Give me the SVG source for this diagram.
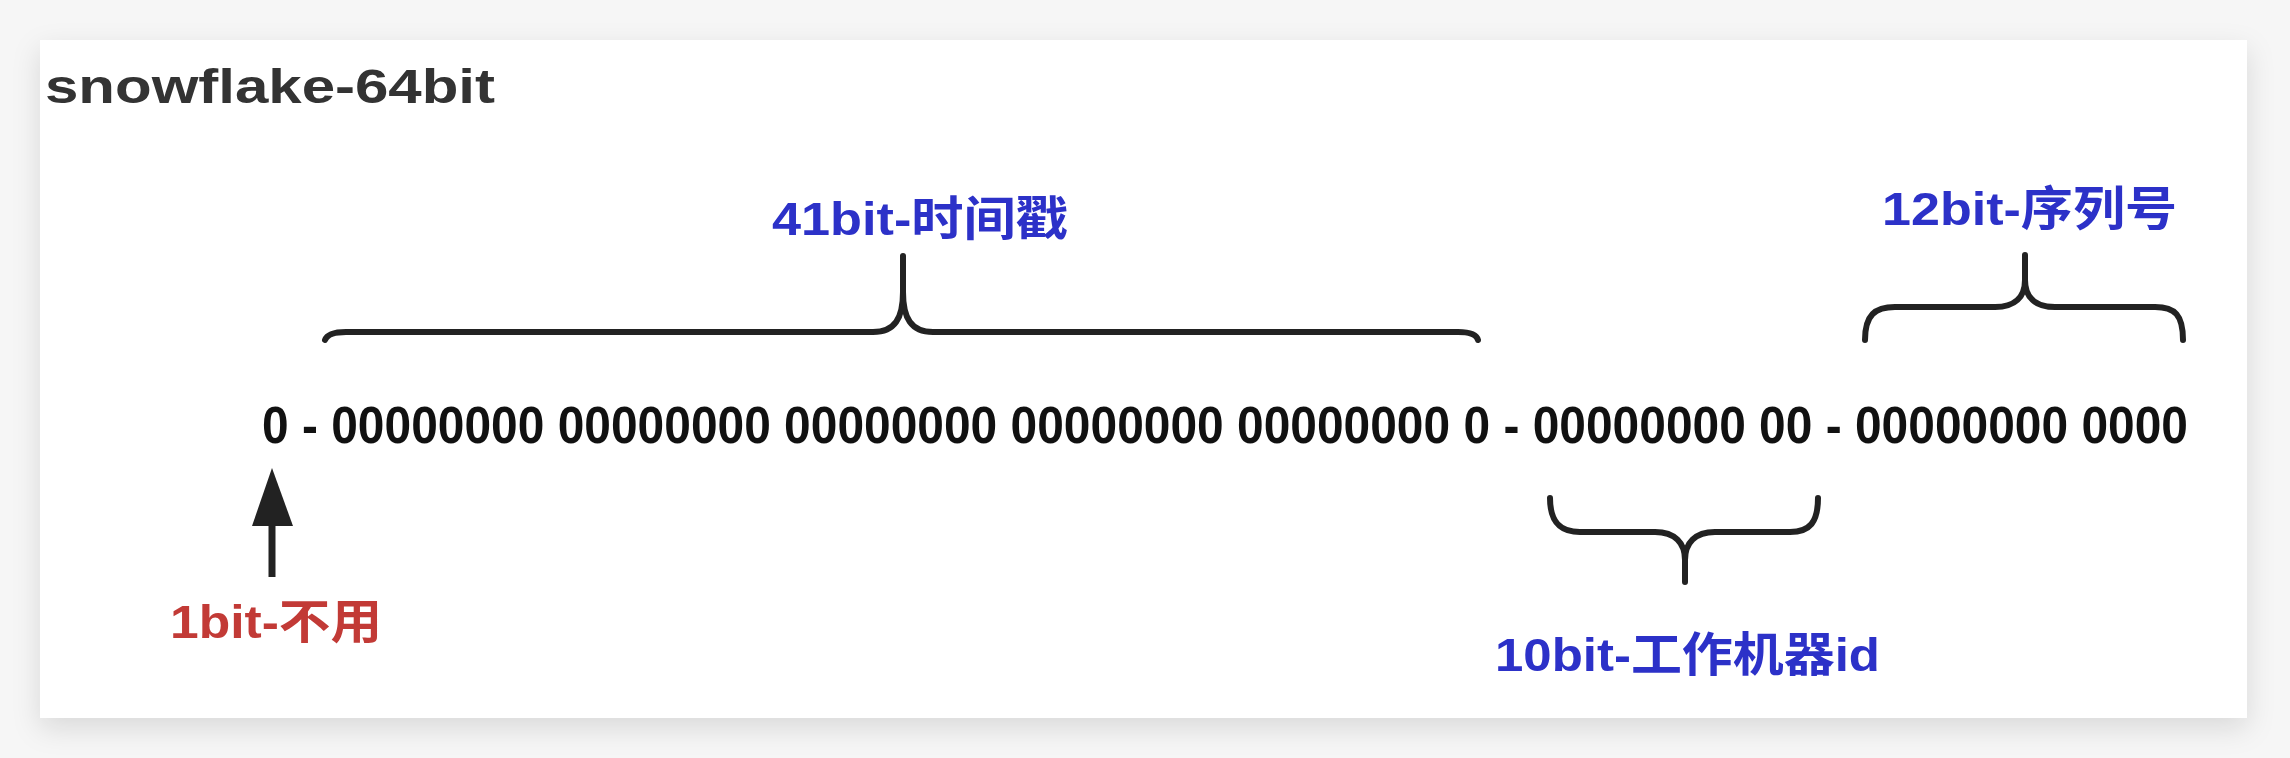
<svg xmlns="http://www.w3.org/2000/svg" width="2290" height="758" viewBox="0 0 2290 758">
  <defs>
    <filter id="shadow" x="-5%" y="-10%" width="110%" height="125%">
      <feDropShadow dx="0" dy="10" stdDeviation="14" flood-color="#000000" flood-opacity="0.12"/>
    </filter>
    <style>
      .title { font-family: "Liberation Sans", "Noto Sans", Arial, sans-serif; font-weight: bold; font-size: 48px; fill: #333333; }
      .bits { font-family: "Liberation Sans", Arial, sans-serif; font-weight: bold; font-size: 52px; fill: #111111; }
      .lbl { font-family: "Liberation Sans", "Noto Sans CJK SC", sans-serif; font-weight: bold; font-size: 47px; }
      .blue { fill: #2c31c8; }
      .red { fill: #c23a36; }
      .brace { fill: none; stroke: #222222; stroke-width: 6; stroke-linecap: round; stroke-linejoin: round; }
    </style>
  </defs>

  <rect x="0" y="0" width="2290" height="758" fill="#f6f6f6"/>
  <rect id="card" x="40" y="40" width="2207" height="678" fill="#ffffff" filter="url(#shadow)"/>

  <g id="title">
    <text class="title" x="45" y="103" textLength="450" lengthAdjust="spacingAndGlyphs">snowflake-64bit</text>
  </g>

  <g id="bits">
    <text class="bits" x="262" y="443" textLength="1926" lengthAdjust="spacingAndGlyphs">0 - 00000000 00000000 00000000 00000000 00000000 0 - 00000000 00 - 00000000 0000</text>
  </g>

  <g id="label-41bit">
    <text class="lbl blue" x="772" y="235" textLength="296" lengthAdjust="spacingAndGlyphs">41bit-时间戳</text>
  </g>

  <g id="label-12bit">
    <text class="lbl blue" x="1882" y="225" textLength="295" lengthAdjust="spacingAndGlyphs">12bit-序列号</text>
  </g>

  <g id="label-10bit">
    <text class="lbl blue" x="1495" y="671" textLength="385" lengthAdjust="spacingAndGlyphs">10bit-工作机器id</text>
  </g>

  <g id="label-1bit">
    <text class="lbl red" x="170" y="638" textLength="212" lengthAdjust="spacingAndGlyphs">1bit-不用</text>
  </g>

  <g id="connectors">
    <path class="brace" d="M325,340 Q328,332 346,332 L873,332 C895,332 903,318 903,292 L903,256 M903,292 C903,318 911,332 933,332 L1458,332 Q1476,332 1478,340"/>
    <path class="brace" d="M1865,340 C1865,315 1875,307 1895,307 L1995,307 C2015,307 2025,297 2025,280 L2025,255 M2025,280 C2025,297 2035,307 2055,307 L2155,307 C2175,307 2183,315 2183,340"/>
    <path class="brace" d="M1550,498 C1550,522 1560,532 1580,532 L1655,532 C1675,532 1685,543 1685,560 L1685,582 M1685,560 C1685,543 1695,532 1715,532 L1790,532 C1810,532 1818,522 1818,498"/>
    <line x1="272" y1="577" x2="272" y2="520" stroke="#222222" stroke-width="7"/>
    <polygon points="272,468 252,526 293,526" fill="#222222"/>
  </g>
</svg>
